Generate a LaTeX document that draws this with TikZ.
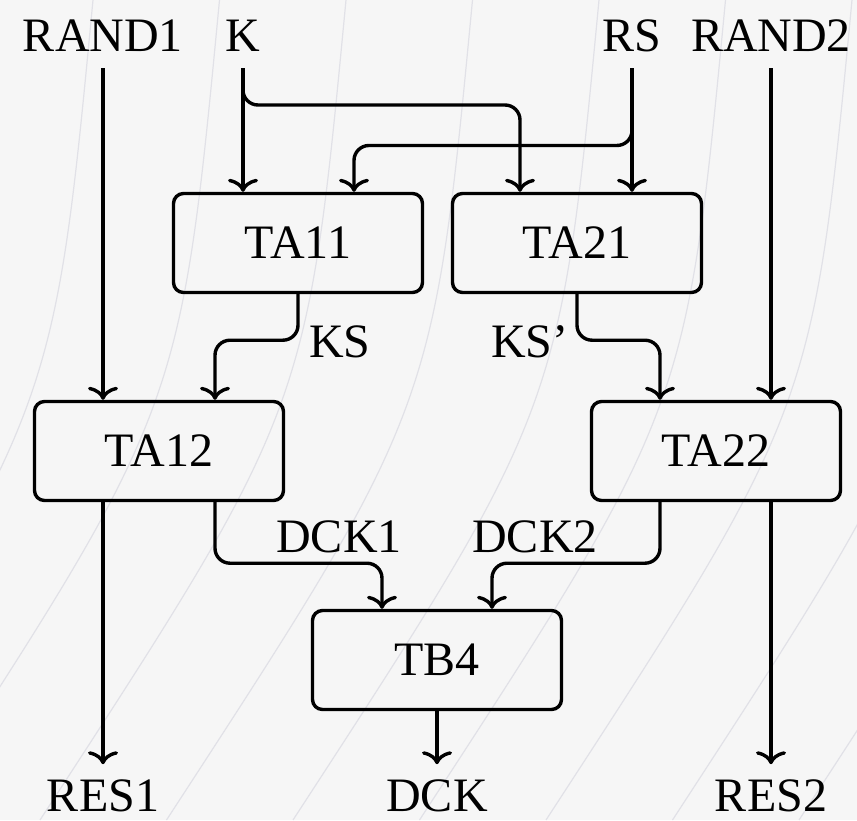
\documentclass[tikz,border=0pt]{standalone}
\usepackage{fontspec}
\setmainfont{Liberation Serif}
\usetikzlibrary{arrows.meta}
\definecolor{bgfill}{HTML}{F6F6F6}
\definecolor{bgstroke}{HTML}{E1E1E7}
\begin{document}
\begin{tikzpicture}[x=1pt,y=-1pt,
  every node/.style={font=\fontsize{48}{58}\selectfont},
  lbl/.style={inner xsep=0pt, inner ysep=17pt, outer sep=0pt, anchor=base},
  tag/.style={inner sep=0pt, outer sep=0pt, anchor=base},
  blk/.style={draw, line width=3.4pt, rounded corners=10pt, minimum width=249pt, minimum height=99pt, inner sep=0pt},
  wire/.style={line width=3.4pt, -{To[length=13pt,width=30pt]}, rounded corners=15pt},
  bgline/.style={draw=bgstroke, line width=1.2pt}]
\fill[bgfill] (0,0) rectangle (857,820);
\useasboundingbox (0,0) rectangle (857,820);
\begin{scope}
  \clip (0,0) rectangle (857,820);
  \foreach \i in {0,...,9} {
    \pgfmathsetmacro\xa{93+126.5*\i}
    \draw[bgline] (\xa,0) .. controls ({\xa-39},410) .. ({\xa-306},820);
  }
\end{scope}

% top and bottom labels
\node[lbl] (rand1) at (103,51) {RAND1};
\node[lbl] (k) at (243,51) {K};
\node[lbl] (rs) at (632,51) {RS};
\node[lbl] (rand2) at (771,51) {RAND2};
\node[tag] (res1) at (103,811) {RES1};
\node[tag] (dck) at (437,811) {DCK};
\node[tag] (res2) at (771,811) {RES2};

% blocks
\node[blk] (ta11) at (298,243) {TA11};
\node[blk] (ta21) at (577,243) {TA21};
\node[blk] (ta12) at (159,451) {TA12};
\node[blk] (ta22) at (716,451) {TA22};
\node[blk] (tb4) at (437,660) {TB4};

% wire labels
\node[tag] (ks) at (340,357) {KS};
\node[tag] (ksp) at (530,357) {KS'};
\node[tag] (dck1) at (339,552) {DCK1};
\node[tag] (dck2) at (535,552) {DCK2};

% connectors
\draw[wire] (rand1.south) -- (rand1.south |- ta12.north);
\draw[wire] (k.south) -- (k.south |- ta11.north);
\draw[wire] (k.south) -- ++(0,37) -| ([xshift=-57pt]ta21.north);
\draw[wire] (rs.south) -- (rs.south |- ta21.north);
\draw[wire] (rs.south) -- ++(0,77) -| ([xshift=56pt]ta11.north);
\draw[wire] (rand2.south) -- (rand2.south |- ta22.north);

\draw[wire] (ta11.south) -- ++(0,46) -| ([xshift=56pt]ta12.north);
\draw[wire] (ta21.south) -- ++(0,46) -| ([xshift=-56pt]ta22.north);

\draw[wire] ([xshift=56pt]ta12.south) -- ++(0,61) -| ([xshift=-55pt]tb4.north);
\draw[wire] ([xshift=-56pt]ta22.south) -- ++(0,61) -| ([xshift=55pt]tb4.north);

\draw[wire] (res1.north |- ta12.south) -- ([yshift=15pt]res1.north);
\draw[wire] (tb4.south) -- ([yshift=15pt]dck.north);
\draw[wire] (res2.north |- ta22.south) -- ([yshift=15pt]res2.north);
\end{tikzpicture}
\end{document}
